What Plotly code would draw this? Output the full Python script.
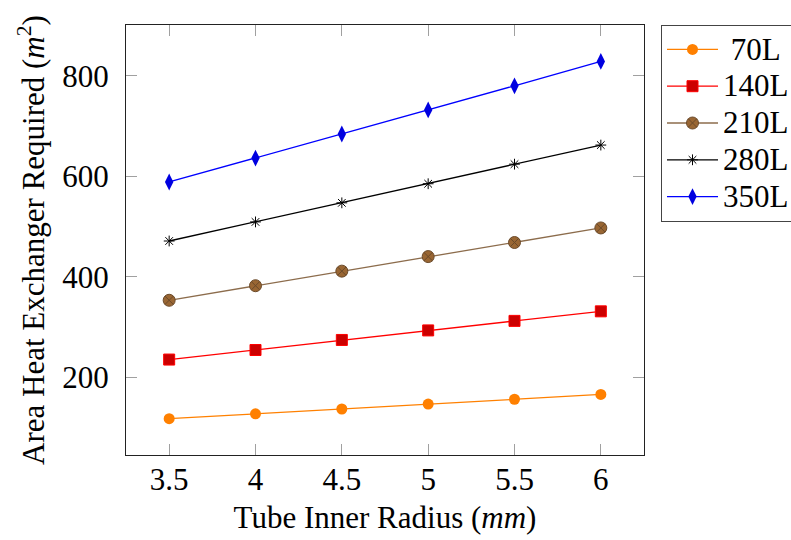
import plotly.graph_objects as go

# Tube inner radius (mm)
radius = [3.5, 4.0, 4.5, 5.0, 5.5, 6.0]

# Required heat exchanger area (m^2) per tank volume
area_70L = [117.3, 127.0, 136.6, 146.3, 156.0, 165.5]
area_140L = [235, 254, 274, 293, 312, 331]
area_210L = [353, 382, 411, 440, 468, 497]
area_280L = [471, 509, 547, 585, 624, 662]
area_350L = [588.5, 636, 684, 732, 780, 828.5]

series_names = ["70L", "140L", "210L", "280L", "350L"]
series_values = [area_70L, area_140L, area_210L, area_280L, area_350L]

x_ticks = [3.5, 4, 4.5, 5, 5.5, 6]
y_ticks = [200, 400, 600, 800]

styles = [
    dict(line=dict(color="#FF8000", width=1.3),
         marker=dict(symbol="circle", size=11, color="#FF8000",
                     line=dict(color="#FF8000", width=0))),
    dict(line=dict(color="#FF0000", width=1.3),
         marker=dict(symbol="square", size=11, color="#CC0000",
                     line=dict(color="#FF0000", width=1))),
    dict(line=dict(color="#8C6C4C", width=1.3),
         marker=dict(symbol="circle-x", size=12, color="#996633",
                     line=dict(color="#6B4A2A", width=1))),
    dict(line=dict(color="#000000", width=1.3),
         marker=dict(symbol="asterisk-open", size=9, color="#000000",
                     line=dict(color="#000000", width=1))),
    dict(line=dict(color="#0000FF", width=1.3),
         marker=dict(symbol="diamond-tall", size=12, color="#0000E0",
                     line=dict(color="#0000FF", width=0))),
]

FONT = "Liberation Serif, Times New Roman, serif"
FS = 31          # text size for ticks, titles and legend labels
LEGEND_FS = 26   # base legend size, sets the row spacing


def legend_label(name):
    # centre the shorter label in the legend column
    pad = "\u00a0" if len(name) < 4 else ""
    return f'<span style="font-size:{FS}px">{pad}{name}</span>'


fig = go.Figure()
for name, vals, st in zip(series_names, series_values, styles):
    fig.add_trace(go.Scatter(x=radius, y=vals, mode="lines+markers",
                             name=legend_label(name),
                             line=st["line"], marker=st["marker"]))

axis_common = dict(
    showgrid=False, zeroline=False, automargin=False,
    showline=True, linecolor="#222222", linewidth=1.2, mirror="ticks",
    ticks="inside", ticklen=11, tickwidth=1.2, tickcolor="#A0A0A0",
    tickfont=dict(family=FONT, size=FS, color="#000000"),
)

fig.update_xaxes(
    range=[3.25, 6.25], tickvals=x_ticks, ticktext=[f"{v:g}" for v in x_ticks],
    ticklabelstandoff=-3,
    title=dict(text="Tube Inner Radius (<i>mm</i>)",
               font=dict(family=FONT, size=FS, color="#000000"), standoff=10),
    **axis_common,
)
fig.update_yaxes(
    range=[45, 901], tickvals=y_ticks, ticktext=[str(v) for v in y_ticks],
    ticklabelstandoff=10,
    title=dict(text="Area Heat Exchanger Required (<i>m</i><sup>2</sup>)",
               font=dict(family=FONT, size=FS, color="#000000"), standoff=8),
    **axis_common,
)

fig.update_layout(
    width=791, height=540,
    margin=dict(l=126, r=147, t=25, b=85),
    plot_bgcolor="white", paper_bgcolor="white",
    font=dict(family=FONT, size=FS, color="#000000"),
    legend=dict(xref="container", yref="container",
                x=661 / 791, y=1 - 25 / 540, xanchor="left", yanchor="top",
                bordercolor="#444444", borderwidth=1, bgcolor="white",
                font=dict(family=FONT, size=LEGEND_FS, color="#000000"),
                itemwidth=51, tracegroupgap=0),
    showlegend=True,
)

fig.write_html("out.html")
